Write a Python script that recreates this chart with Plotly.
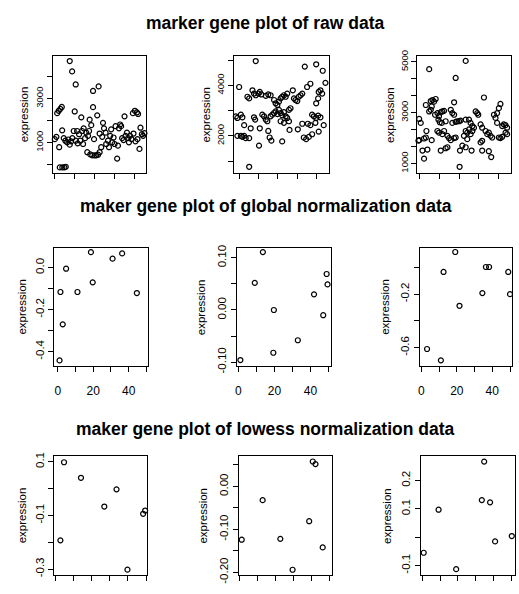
import plotly.graph_objects as go

W, H = 519, 594

# ---------------- data ----------------
titles = ["marker gene plot of raw data",
          "maker gene plot of global normalization data",
          "maker gene plot of lowess normalization data"]
y_label = "expression"

raw1_x = [0.0, 0.8, 1.2, 2.0, 2.8, 3.5, 2.2, 3.7, 2.5, 3.8, 4.8, 5.5, 4.5, 5.3, 6.2, 6.8, 7.5, 7.5, 8.2, 8.7,
          8.8, 9.5, 10.0, 10.5, 10.5, 11.2, 11.5, 12.2, 12.8, 13.3, 13.7, 14.2, 14.5, 15.2, 15.8, 16.3, 16.7,
          17.2, 17.5, 17.8, 18.3, 18.8, 19.2, 19.2, 19.7, 20.0, 20.8, 21.3, 21.7, 22.0, 22.5, 22.5, 23.3, 23.8,
          24.2, 24.7, 25.5, 25.8, 26.7, 27.2, 27.8, 28.3, 28.8, 29.5, 30.0, 30.5, 31.3, 31.7, 32.2, 32.8, 33.3,
          33.8, 34.5, 35.0, 35.5, 36.2, 36.8, 37.2, 37.8, 38.5, 39.2, 39.5, 40.2, 40.5, 41.2, 41.5, 41.8, 42.5,
          43.0, 43.7, 44.3, 45.0]
raw1_y = [1160, 1265, 2340, 2445, 2535, 2620, 795, 1560, -120, -120, -120, -90, 1205, 1090, 1015, 1145, 4700,
          910, 1060, 4230, 1205, 1530, 2415, 3640, 1090, 1530, 970, 1385, 1090, 2150, 1530, 940, 1650, 1205,
          1455, 570, 1310, 1530, 2045, 470, 1795, 425, 3345, 2610, 1160, 425, 425, 2240, 455, 3550, 1415, 570,
          795, 1265, 1900, 1650, 1455, 940, 1090, 795, 1310, 1605, 1015, 1235, 940, 1750, 280, 865, 1650, 1825,
          1750, 1205, 1120, 2195, 1310, 1455, 1205, 1015, 1310, 1160, 2340, 1415, 2445, 1060, 2370, 1160, 2300,
          720, 1680, 1385, 1310, 1430]

raw2_x = [-1.7, -0.9, -0.9, 0.0, 0.9, 0.9, 1.7, 1.7, 2.6, 2.6, 3.4, 4.3, 5.2, 5.2, 5.2, 6.0, 6.9, 7.7, 7.7,
          8.3, 8.6, 8.6, 10.0, 10.3, 10.7, 10.7, 11.5, 12.0, 12.9, 13.8, 13.8, 14.6, 15.1, 15.1, 15.8, 16.3,
          16.3, 16.7, 17.2, 18.1, 18.1, 18.9, 18.9, 19.8, 19.8, 20.6, 20.6, 21.5, 21.5, 21.5, 22.3, 22.3, 22.3,
          23.2, 23.2, 23.2, 24.1, 24.1, 24.9, 24.9, 25.8, 25.8, 26.1, 26.6, 27.8, 28.4, 29.2, 30.1, 30.4, 30.9,
          31.8, 32.7, 32.7, 33.5, 34.0, 34.7, 35.2, 35.6, 36.1, 36.9, 36.9, 37.8, 37.8, 38.7, 39.5, 39.9, 39.9,
          39.9, 40.9, 40.9, 41.2, 41.2, 42.1, 42.1, 43.0, 43.3, 43.8, 44.7]
raw2_y = [2770, 2710, 2000, 3935, 2840, 2000, 2735, 1960, 2425, 2000, 1910, 3550, 3485, 1910, 775, 2300, 3805,
          3675, 2735, 2645, 4965, 3610, 3675, 1615, 3740, 2300, 3640, 2840, 2775, 3585, 2645, 2580, 3640, 2195,
          1935, 3610, 2775, 1810, 2840, 3420, 2905, 3290, 2970, 3225, 2865, 3355, 3030, 3485, 2905, 2580, 3550,
          2815, 1780, 3610, 2940, 2515, 3550, 2775, 3675, 2710, 3030, 2580, 2235, 3095, 3805, 3485, 3420, 3380,
          2260, 3550, 3610, 3675, 2480, 1935, 4745, 1870, 3935, 2480, 1960, 4065, 2425, 2840, 2065, 2775, 2515,
          4835, 3290, 2710, 3485, 2800, 3740, 2170, 3805, 2735, 3675, 4580, 2425, 4100]

raw3_x = [-0.65, -0.3, -0.3, 0.5, 1.4, 2.2, 2.2, 3.1, 3.1, 3.4, 3.9, 4.8, 4.8, 5.6, 5.6, 6.1, 6.1, 6.5, 7.3,
          7.8, 8.1, 9.0, 9.0, 9.5, 9.8, 9.8, 10.2, 10.7, 10.7, 11.2, 11.5, 11.5, 12.4, 12.4, 13.2, 13.2, 14.1,
          14.1, 14.9, 15.8, 15.8, 16.6, 16.6, 17.5, 17.5, 17.5, 18.3, 18.3, 18.3, 19.1, 20.0, 20.3, 20.5, 20.8,
          21.7, 22.5, 23.4, 23.4, 23.4, 23.4, 24.2, 24.2, 25.1, 25.1, 25.9, 25.9, 26.4, 26.8, 26.8, 27.6, 28.5,
          29.3, 29.8, 31.0, 31.0, 31.8, 31.8, 31.8, 32.7, 33.5, 34.4, 35.2, 35.2, 36.1, 36.4, 36.9, 37.8, 38.6,
          39.4, 39.4, 40.3, 40.3, 41.1, 41.1, 42.0, 42.0, 42.8, 43.7, 43.7, 44.5, 44.5]
raw3_y = [1900, 2755, 1920, 2600, 1510, 1985, 1190, 3305, 2025, 2280, 1550, 4715, 3050, 3460, 3115, 3245, 1920,
          3500, 3435, 2920, 3540, 2985, 2280, 2730, 2860, 2215, 2625, 3025, 1510, 2600, 3050, 2155, 3075, 2280,
          2665, 1600, 2090, 1640, 2000, 3115, 1920, 2985, 2600, 3410, 2920, 2000, 4370, 2640, 2025, 2665, 2665,
          870, 1510, 2690, 1705, 2090, 5040, 2730, 2280, 1640, 2215, 1960, 2730, 2345, 2600, 2155, 1510, 2475,
          2280, 2410, 3050, 2985, 2920, 2540, 1830, 2410, 1895, 1510, 3600, 2280, 2155, 2215, 1485, 2090, 1255,
          2025, 2920, 2795, 2985, 2600, 3180, 2025, 3345, 2000, 2475, 2050, 2540, 2510, 2215, 2410, 2155]

glob1_x = [1, 1.5, 2.8, 4.7, 11.1, 18.7, 19.7, 30.9, 36.3, 44.6]
glob1_y = [-0.442, -0.116, -0.270, -0.005, -0.116, 0.074, -0.070, 0.043, 0.068, -0.121]
glob2_x = [1.1, 9.1, 13.6, 19.7, 19.4, 33, 42, 47.1, 49, 49.5]
glob2_y = [-0.096, 0.052, 0.111, 0.000, -0.082, -0.058, 0.030, -0.010, 0.069, 0.049]
glob3_x = [3.2, 11, 12.5, 19.1, 21.5, 34.4, 36.4, 38.2, 49, 50]
glob3_y = [-0.61, -0.695, -0.034, 0.115, -0.287, -0.192, 0.003, 0.003, -0.034, -0.20]

low1_x = [2.9, 4.9, 14.2, 27, 33.7, 39.7, 48.3, 49.4]
low1_y = [-0.193, 0.098, 0.040, -0.067, -0.003, -0.302, -0.094, -0.082]
low2_x = [1.3, 12.9, 22.7, 29.5, 38.7, 40.7, 42.2, 46.2]
low2_y = [-0.124, -0.032, -0.122, -0.194, -0.081, 0.058, 0.052, -0.142]
low3_x = [0.9, 9.2, 19, 34.6, 33.3, 37.9, 40.7, 50]
low3_y = [-0.055, 0.097, -0.113, 0.267, 0.131, 0.123, -0.015, 0.004]

# tick values / labels
raw_xticks = [0, 10, 20, 30, 40]
norm_xticks = [0, 10, 20, 30, 40, 50]
norm_xtext = ["0", "", "20", "", "40", ""]
raw1_yticks = [0, 1000, 2000, 3000, 4000]
raw1_ytext = ["", "1000", "", "3000", ""]
raw2_yticks = [1000, 2000, 3000, 4000, 5000]
raw2_ytext = ["", "2000", "", "4000", ""]
raw3_yticks = [1000, 1667, 2333, 3000, 3667, 4333, 5000]
raw3_ytext = ["1000", "", "", "3000", "", "", "5000"]
glob1_yticks = [0.0, -0.1, -0.2, -0.3, -0.4]
glob1_ytext = ["0.0", "", "-0.2", "", "-0.4"]
glob2_yticks = [0.10, 0.05, 0.00, -0.05, -0.10]
glob2_ytext = ["0.10", "", "0.00", "", "-0.10"]
glob3_yticks = [0.0, -0.2, -0.4, -0.6]
glob3_ytext = ["", "-0.2", "", "-0.6"]
low1_yticks = [0.1, 0.0, -0.1, -0.2, -0.3]
low1_ytext = ["0.1", "", "-0.1", "", "-0.3"]
low2_yticks = [0.05, 0.00, -0.05, -0.10, -0.15, -0.20]
low2_ytext = ["", "0.00", "", "-0.10", "", "-0.20"]
low3_yticks = [0.2, 0.1, 0.0, -0.1]
low3_ytext = ["0.2", "0.1", "", "-0.1"]

# ---------------- layout (pixel boxes: left, right, top, bottom; y-title offset) ----------------
panels = [
    dict(x=raw1_x, y=raw1_y, box=(51, 145, 51, 171), xr=[-1, 46], yr=[-372, 4938],
         xt=raw_xticks, xtt=[""] * 5, yt=raw1_yticks, ytt=raw1_ytext, fs=9.5, lo=29),
    dict(x=raw2_x, y=raw2_y, box=(233, 328, 51, 171), xr=[-2.6, 46.4], yr=[530, 5172],
         xt=raw_xticks, xtt=[""] * 5, yt=raw2_yticks, ytt=raw2_ytext, fs=9.5, lo=28),
    dict(x=raw3_x, y=raw3_y, box=(417, 511, 51, 171), xr=[-1.2, 46.5], yr=[627, 5242],
         xt=raw_xticks, xtt=[""] * 5, yt=raw3_yticks, ytt=raw3_ytext, fs=9.5, lo=27),
    dict(x=glob1_x, y=glob1_y, box=(52.7, 146.7, 247.5, 369), xr=[-1.85, 50.96], yr=[-0.470, 0.0953],
         xt=norm_xticks, xtt=norm_xtext, yt=glob1_yticks, ytt=glob1_ytext, fs=11.5, lo=33),
    dict(x=glob2_x, y=glob2_y, box=(236, 330, 247.5, 369), xr=[-0.72, 51.27], yr=[-0.108, 0.1195],
         xt=norm_xticks, xtt=norm_xtext, yt=glob2_yticks, ytt=glob2_ytext, fs=11.5, lo=36),
    dict(x=glob3_x, y=glob3_y, box=(419.3, 512.3, 247.5, 369), xr=[-0.96, 51.3], yr=[-0.7394, 0.1474],
         xt=norm_xticks, xtt=norm_xtext, yt=glob3_yticks, ytt=glob3_ytext, fs=11.5, lo=35),
    dict(x=low1_x, y=low1_y, box=(52.7, 145.7, 461, 583), xr=[-0.33, 50.5], yr=[-0.3229, 0.1207],
         xt=norm_xticks, xtt=[""] * 6, yt=low1_yticks, ytt=low1_ytext, fs=11.5, lo=33),
    dict(x=low2_x, y=low2_y, box=(237.7, 331, 461, 583), xr=[-0.33, 51.2], yr=[-0.2068, 0.0705],
         xt=norm_xticks, xtt=[""] * 6, yt=low2_yticks, ytt=low2_ytext, fs=11.5, lo=36),
    dict(x=low3_x, y=low3_y, box=(420.7, 515, 461, 583), xr=[-0.56, 51.8], yr=[-0.1345, 0.2862],
         xt=norm_xticks, xtt=[""] * 6, yt=low3_yticks, ytt=low3_ytext, fs=11.5, lo=35),
]

fig = go.Figure()
layout = dict(width=W, height=H, margin=dict(l=0, r=0, t=0, b=0),
              paper_bgcolor="white", plot_bgcolor="white", showlegend=False)
annotations = []
FONT = "Liberation Sans, Arial, sans-serif"

for i, p in enumerate(panels, start=1):
    l, r, t, b = p["box"]
    xa = "x" if i == 1 else f"x{i}"
    ya = "y" if i == 1 else f"y{i}"
    fig.add_trace(go.Scatter(
        x=p["x"], y=p["y"], mode="markers", xaxis=xa, yaxis=ya,
        marker=dict(symbol="circle-open", size=5, color="black", line=dict(width=1.2, color="black")),
        cliponaxis=False, hoverinfo="skip"))
    common = dict(showline=True, linecolor="black", linewidth=1, mirror=True, showgrid=False,
                  zeroline=False, ticks="outside", ticklen=5, tickwidth=1, tickcolor="black",
                  tickmode="array", fixedrange=True)
    layout["xaxis" if i == 1 else f"xaxis{i}"] = dict(
        common, domain=[l / W, r / W], range=p["xr"], anchor=ya,
        tickvals=p["xt"], ticktext=p["xtt"], ticklabelstandoff=8,
        tickfont=dict(family=FONT, size=12, color="black"))
    layout["yaxis" if i == 1 else f"yaxis{i}"] = dict(
        common, domain=[1 - b / H, 1 - t / H], range=p["yr"], anchor=xa,
        tickvals=p["yt"], ticktext=p["ytt"], tickangle=-90,
        tickfont=dict(family=FONT, size=p["fs"], color="black"))
    # y-axis title
    annotations.append(dict(
        text=y_label, textangle=-90, xref="paper", yref="paper",
        x=(l - p["lo"]) / W, y=1 - ((t + b) / 2) / H, xanchor="center", yanchor="middle",
        showarrow=False, font=dict(family=FONT, size=11.5, color="black")))

title_y = [17, 205, 433]
for tt, ty in zip(titles, title_y):
    annotations.append(dict(
        text=f"<b>{tt}</b>", xref="paper", yref="paper", x=265 / W, y=1 - ty / H,
        xanchor="center", yanchor="middle", showarrow=False,
        font=dict(family=FONT, size=17.5, color="black")))

layout["annotations"] = annotations
fig.update_layout(**layout)
fig.write_html("out.html", config={"displayModeBar": False, "staticPlot": True},
               post_script="document.body.style.margin='0';document.body.style.overflow='hidden';")
